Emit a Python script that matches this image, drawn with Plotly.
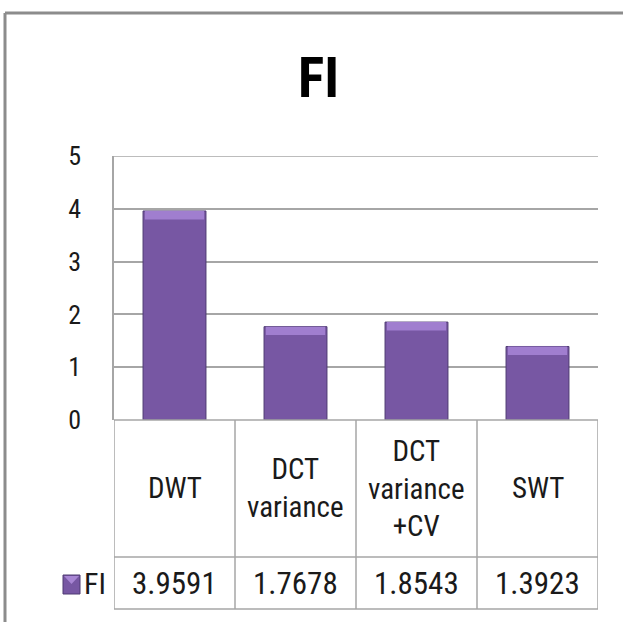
import plotly.graph_objects as go

categories = ["DWT", "DCT<br>variance", "DCT<br>variance<br>+CV", "SWT"]
series_name = "FI"
fi_values = [3.9591, 1.7678, 1.8543, 1.3923]
value_labels = ["3.9591", "1.7678", "1.8543", "1.3923"]
y_ticks = [0, 1, 2, 3, 4, 5]

W, H = 623, 622
L, R, T, B = 114, 598, 156, 420  # plot area in pixels

def px(xp):
    return (xp - L) / (R - L)

def py(yp):
    return (B - yp) / (B - T)

FONT = ("Liberation Sans Narrow, Arial Narrow, Roboto Condensed, Noto Sans Condensed, "
        "DejaVu Sans Condensed, sans-serif")
GRID = "#a6a6a6"
TXT = "#1a1a1a"

xi = list(range(len(fi_values)))

fig = go.Figure()
fig.add_trace(go.Bar(
    x=xi, y=fi_values, width=0.52,
    marker=dict(color="#7757a3", line=dict(color="#4e3a72", width=1)),
    hoverinfo="skip", showlegend=False,
))
# light bevel at top of each bar
bevel = 0.16
fig.add_trace(go.Bar(
    x=xi, y=[bevel] * len(fi_values), base=[v - bevel for v in fi_values],
    width=0.49, marker=dict(color="#a07ecf", line=dict(width=0)),
    hoverinfo="skip", showlegend=False,
))

fig.update_layout(
    width=W, height=H,
    margin=dict(l=L, r=W - R, t=T, b=H - B, pad=0),
    paper_bgcolor="white", plot_bgcolor="white",
    barmode="overlay",
    font=dict(family=FONT, color=TXT),
    xaxis=dict(range=[-0.5, len(fi_values) - 0.5], showticklabels=False,
               showgrid=False, zeroline=False, showline=False, fixedrange=True),
    yaxis=dict(range=[0, 5], tickvals=y_ticks, showgrid=True, gridcolor=GRID,
               gridwidth=1.5, zeroline=False, showline=True, linecolor=GRID,
               linewidth=1.5, ticks="", tickfont=dict(size=26, color=TXT),
               ticklabelstandoff=26, fixedrange=True),
)

shapes = []
# top gridline at max tick
shapes.append(dict(type="line", xref="paper", yref="y", x0=0, x1=1,
                   y0=y_ticks[-1], y1=y_ticks[-1], line=dict(color=GRID, width=1.5)))
# outer chart border (top and left)
shapes.append(dict(type="line", xref="paper", yref="paper", x0=px(5), x1=px(W + 5),
                   y0=py(13), y1=py(13), line=dict(color="#8c8c8c", width=3)))
shapes.append(dict(type="line", xref="paper", yref="paper", x0=px(5), x1=px(5),
                   y0=py(13), y1=py(H + 5), line=dict(color="#8c8c8c", width=3)))
# x axis line / table top
shapes.append(dict(type="line", xref="x", yref="paper", x0=-0.5, x1=len(fi_values) - 0.5,
                   y0=0, y1=0, line=dict(color=GRID, width=1.5)))
# table vertical lines
for k in range(len(fi_values) + 1):
    shapes.append(dict(type="line", xref="x", yref="paper", x0=k - 0.5, x1=k - 0.5,
                       y0=py(420), y1=py(609), line=dict(color=GRID, width=1.5)))
# table horizontal lines
for yy in (557, 609):
    shapes.append(dict(type="line", xref="x", yref="paper", x0=-0.5, x1=len(fi_values) - 0.5,
                       y0=py(yy), y1=py(yy), line=dict(color=GRID, width=1.5)))
# legend key square
shapes.append(dict(type="rect", xref="paper", yref="paper", x0=px(63), x1=px(80),
                   y0=py(575), y1=py(594), fillcolor="#7757a3",
                   line=dict(color="#4e3a72", width=1)))
shapes.append(dict(type="path", xref="paper", yref="paper",
                   path=f"M {px(64)} {py(576)} L {px(79)} {py(576)} L {px(71.5)} {py(584)} Z",
                   fillcolor="#a886d4", line=dict(width=0)))
fig.update_layout(shapes=shapes)

ann = []
ann.append(dict(text="<b>FI</b>", xref="paper", yref="paper", x=px(318), y=py(78),
                showarrow=False, font=dict(size=55, color="#000"), xanchor="center",
                yanchor="middle"))
for i, c in enumerate(categories):
    ann.append(dict(text=c, xref="x", yref="paper", x=i, y=py(488), showarrow=False,
                    font=dict(size=29, color=TXT), xanchor="center", yanchor="middle"))
for i, v in enumerate(value_labels):
    ann.append(dict(text=v, xref="x", yref="paper", x=i, y=py(583), showarrow=False,
                    font=dict(size=31, color=TXT), xanchor="center", yanchor="middle"))
ann.append(dict(text=series_name, xref="paper", yref="paper", x=px(108), y=py(583),
                showarrow=False, font=dict(size=30, color=TXT), xanchor="right",
                yanchor="middle"))
fig.update_layout(annotations=ann)

fig.write_html("out.html", config={"displayModeBar": False},
               post_script="document.body.style.margin='0px';")
